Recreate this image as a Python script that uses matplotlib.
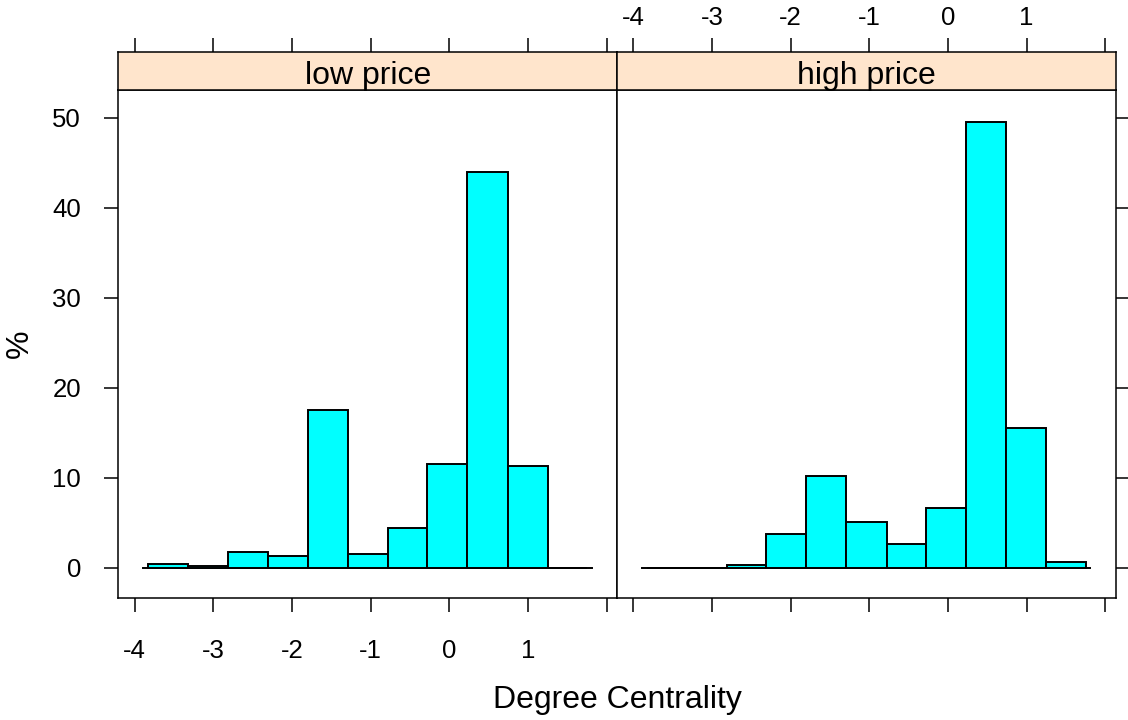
import matplotlib
matplotlib.use("Agg")
import matplotlib.pyplot as plt

plt.rcParams['font.family'] = ['Liberation Sans', 'DejaVu Sans']

# ---- data ----
panels = ["low price", "high price"]
bin_edges = [-3.83, -3.32, -2.81, -2.31, -1.80, -1.29, -0.78, -0.28, 0.23, 0.74, 1.25, 1.75]
low_pct = [0.44, 0.22, 1.78, 1.33, 17.56, 1.56, 4.44, 11.56, 44.0, 11.33, 0.0]
high_pct = [0.0, 0.0, 0.25, 3.74, 10.2, 5.08, 2.63, 6.63, 49.5, 15.5, 0.63]
baseline_range = [-3.89, 1.81]
x_ticks = [-4, -3, -2, -1, 0, 1, 2]
x_tick_labels = ["-4", "-3", "-2", "-1", "0", "1", ""]
y_ticks = [0, 10, 20, 30, 40, 50]
y_tick_labels = ["0", "10", "20", "30", "40", "50"]
xlabel = "Degree Centrality"
ylabel = "%"

# ---- layout ----
W, H = 1128, 720
fig = plt.figure(figsize=(W / 100, H / 100), dpi=100)

px_left, px_mid, px_right = 118.4, 617.0, 1115.6
px_top, px_bottom = 90.0, 598.3
strip_top = 52.0

xlim = (-4.207, 2.131)
ylim = (-3.4, 53.08)

bar_color = "#00ffff"
strip_color = "#ffe5cc"
tick_fs = 18.5
strip_fs = 23
lab_fs = 23
tick_len = 10
lw = 1.1

def frac_x(px):
    return px / W

def frac_y(py):
    return 1 - py / H

data = [low_pct, high_pct]
bounds = [(px_left, px_mid), (px_mid, px_right)]

for i, (name, vals) in enumerate(zip(panels, data)):
    l, r = bounds[i]
    ax = fig.add_axes([frac_x(l), frac_y(px_bottom), frac_x(r) - frac_x(l),
                       frac_y(px_top) - frac_y(px_bottom)])
    lefts = bin_edges[:-1]
    widths = [b - a for a, b in zip(bin_edges[:-1], bin_edges[1:])]
    ax.plot(baseline_range, [0, 0], color="black", lw=1.4, zorder=2)
    ax.bar(lefts, vals, width=widths, align="edge", color=bar_color,
           edgecolor="black", linewidth=1.4, zorder=3)
    ax.set_xlim(*xlim)
    ax.set_ylim(*ylim)
    for s in ax.spines.values():
        s.set_linewidth(lw)
    ax.set_xticks(x_ticks)
    ax.set_yticks(y_ticks)
    ax.tick_params(axis="x", direction="out", length=tick_len, width=lw,
                   labelsize=tick_fs, pad=19)
    ax.tick_params(axis="y", direction="out", length=tick_len, width=lw,
                   labelsize=tick_fs, pad=17)
    if i == 0:
        ax.set_xticklabels(x_tick_labels)
        ax.set_yticklabels(y_tick_labels)
        ax.tick_params(axis="y", left=True, right=False, labelleft=True)
    else:
        ax.tick_params(axis="x", bottom=True, labelbottom=False)
        ax.tick_params(axis="y", left=False, labelleft=False, right=True,
                       labelright=False)

    # strip
    sax = fig.add_axes([frac_x(l), frac_y(px_top), frac_x(r) - frac_x(l),
                        frac_y(strip_top) - frac_y(px_top)])
    sax.set_facecolor(strip_color)
    sax.set_xlim(*xlim)
    sax.set_ylim(0, 1)
    for s in sax.spines.values():
        s.set_linewidth(lw)
    sax.set_yticks([])
    sax.set_xticks(x_ticks)
    sax.xaxis.set_ticks_position("top")
    sax.tick_params(axis="x", direction="out", length=tick_len, width=lw,
                    labelsize=tick_fs, pad=6, bottom=False, labelbottom=False,
                    top=True, labeltop=(i == 1))
    if i == 1:
        sax.set_xticklabels(x_tick_labels)
    sax.text(0.5, 0.36, name, transform=sax.transAxes, ha="center", va="center",
             fontsize=strip_fs)

fig.text(frac_x((px_left + px_right) / 2), frac_y(700), xlabel, ha="center",
         va="center", fontsize=lab_fs)
fig.text(frac_x(20), frac_y((px_top + px_bottom) / 2), ylabel, ha="center",
         va="center", rotation=90, fontsize=lab_fs)

fig.savefig("out.png", dpi=100)
